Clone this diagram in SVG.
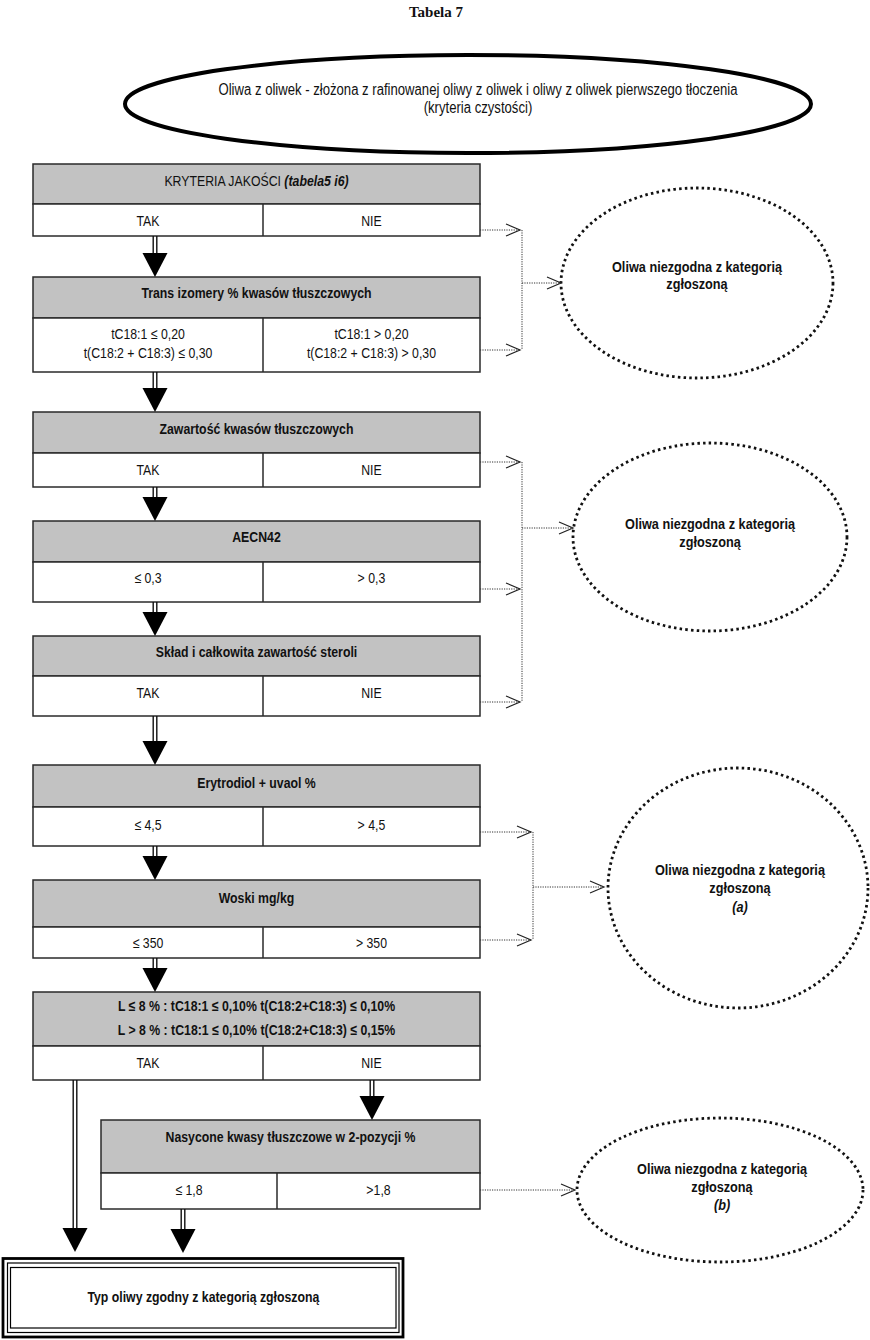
<svg xmlns="http://www.w3.org/2000/svg" xmlns:xlink="http://www.w3.org/1999/xlink" width="870" height="1340" viewBox="0 0 870 1340">
<style>
.bg{fill:#ffffff}
.hdr{fill:#c2c2c2;stroke:#2a2a2a;stroke-width:1.5}
.row{fill:#ffffff;stroke:#2a2a2a;stroke-width:1.5}
.div{stroke:#2a2a2a;stroke-width:1.5}
.t{font-family:"Liberation Sans",Arial,Helvetica,sans-serif;font-size:15px;fill:#111;text-anchor:middle}
.b{font-weight:bold}
.dot{fill:none;stroke:#111;stroke-width:2.8;stroke-dasharray:2.5 3.2}
.shaft{fill:none;stroke:#111;stroke-width:1.4}
.dl{fill:none;stroke:#333;stroke-width:1;stroke-dasharray:1.2 1.2}
.oa{fill:none;stroke:#222;stroke-width:1.2}
.tri{fill:#000}
</style>
<defs>
<path id="tri" class="tri" d="M-12.5,0 L12.5,0 L0,24 Z"/>
<path id="oa" class="oa" d="M-14,-6 L0,0 L-14,6"/>
</defs>
<rect class="bg" x="0" y="0" width="870" height="1340"/>
<text x="436" y="17" style="font-family:'Liberation Serif','Times New Roman',serif;font-size:15px;font-weight:bold;text-anchor:middle;fill:#111">Tabela 7</text>

<g id="start">
<ellipse cx="468" cy="104" rx="343" ry="49" fill="#fff" stroke="#000" stroke-width="4"/>
<text class="t" style="font-size:16px" transform="scale(0.82 1)" x="582.9" y="95">Oliwa z oliwek - złożona z rafinowanej oliwy z oliwek i oliwy z oliwek pierwszego tłoczenia</text>
<text class="t" style="font-size:16px" transform="scale(0.82 1)" x="582.9" y="113">(kryteria czystości)</text>
</g>

<g id="n1">
<rect class="hdr" x="33" y="164" width="447" height="40"/>
<rect class="row" x="33" y="204" width="447" height="32"/>
<line class="div" x1="263" y1="204" x2="263" y2="236"/>
<text class="t" transform="scale(0.82 1)" x="312.8" y="186">KRYTERIA JAKOŚCI <tspan class="b" font-style="italic">(tabela5 i6)</tspan></text>
<text class="t" transform="scale(0.82 1)" x="180.5" y="226">TAK</text>
<text class="t" transform="scale(0.82 1)" x="453" y="226">NIE</text>
</g>

<g id="n2">
<rect class="hdr" x="33" y="277" width="447" height="41"/>
<rect class="row" x="33" y="318" width="447" height="54"/>
<line class="div" x1="263" y1="318" x2="263" y2="372"/>
<text class="t b" transform="scale(0.82 1)" x="312.8" y="298">Trans izomery % kwasów tłuszczowych</text>
<text class="t" transform="scale(0.82 1)" x="180.5" y="339">tC18:1 ≤ 0,20</text>
<text class="t" transform="scale(0.82 1)" x="180.5" y="358">t(C18:2 + C18:3) ≤ 0,30</text>
<text class="t" transform="scale(0.82 1)" x="453" y="339">tC18:1 &gt; 0,20</text>
<text class="t" transform="scale(0.82 1)" x="453" y="358">t(C18:2 + C18:3) &gt; 0,30</text>
</g>

<g id="n3">
<rect class="hdr" x="33" y="412" width="447" height="41"/>
<rect class="row" x="33" y="453" width="447" height="34"/>
<line class="div" x1="263" y1="453" x2="263" y2="487"/>
<text class="t b" transform="scale(0.82 1)" x="312.8" y="434">Zawartość kwasów tłuszczowych</text>
<text class="t" transform="scale(0.82 1)" x="180.5" y="475">TAK</text>
<text class="t" transform="scale(0.82 1)" x="453" y="475">NIE</text>
</g>

<g id="n4">
<rect class="hdr" x="33" y="521" width="447" height="41"/>
<rect class="row" x="33" y="562" width="447" height="40"/>
<line class="div" x1="263" y1="562" x2="263" y2="602"/>
<text class="t b" transform="scale(0.82 1)" x="312.8" y="542">AECN42</text>
<text class="t" transform="scale(0.82 1)" x="180.5" y="583">≤ 0,3</text>
<text class="t" transform="scale(0.82 1)" x="453" y="583">&gt; 0,3</text>
</g>

<g id="n5">
<rect class="hdr" x="33" y="636" width="447" height="40"/>
<rect class="row" x="33" y="676" width="447" height="40"/>
<line class="div" x1="263" y1="676" x2="263" y2="716"/>
<text class="t b" transform="scale(0.82 1)" x="312.8" y="657">Skład i całkowita zawartość steroli</text>
<text class="t" transform="scale(0.82 1)" x="180.5" y="698">TAK</text>
<text class="t" transform="scale(0.82 1)" x="453" y="698">NIE</text>
</g>

<g id="n6">
<rect class="hdr" x="33" y="765" width="447" height="42"/>
<rect class="row" x="33" y="807" width="447" height="39"/>
<line class="div" x1="263" y1="807" x2="263" y2="846"/>
<text class="t b" transform="scale(0.82 1)" x="312.8" y="788">Erytrodiol + uvaol %</text>
<text class="t" transform="scale(0.82 1)" x="180.5" y="830">≤ 4,5</text>
<text class="t" transform="scale(0.82 1)" x="453" y="830">&gt; 4,5</text>
</g>

<g id="n7">
<rect class="hdr" x="33" y="880" width="447" height="47"/>
<rect class="row" x="33" y="927" width="447" height="31"/>
<line class="div" x1="263" y1="927" x2="263" y2="958"/>
<text class="t b" transform="scale(0.82 1)" x="312.8" y="903">Woski mg/kg</text>
<text class="t" transform="scale(0.82 1)" x="180.5" y="948">≤ 350</text>
<text class="t" transform="scale(0.82 1)" x="453" y="948">&gt; 350</text>
</g>

<g id="n8">
<rect class="hdr" x="33" y="992" width="447" height="54"/>
<rect class="row" x="33" y="1046" width="447" height="34"/>
<line class="div" x1="263" y1="1046" x2="263" y2="1080"/>
<text class="t b" transform="scale(0.82 1)" x="312.8" y="1011">L ≤ 8 % : tC18:1 ≤ 0,10% t(C18:2+C18:3) ≤ 0,10%</text>
<text class="t b" transform="scale(0.82 1)" x="312.8" y="1035">L &gt; 8 % : tC18:1 ≤ 0,10% t(C18:2+C18:3) ≤ 0,15%</text>
<text class="t" transform="scale(0.82 1)" x="180.5" y="1068">TAK</text>
<text class="t" transform="scale(0.82 1)" x="453" y="1068">NIE</text>
</g>

<g id="n9">
<rect class="hdr" x="101" y="1120" width="379" height="53"/>
<rect class="row" x="101" y="1173" width="379" height="36"/>
<line class="div" x1="277" y1="1173" x2="277" y2="1209"/>
<text class="t b" transform="scale(0.82 1)" x="354.3" y="1142">Nasycone kwasy tłuszczowe w 2-pozycji %</text>
<text class="t" transform="scale(0.82 1)" x="230.5" y="1195">≤ 1,8</text>
<text class="t" transform="scale(0.82 1)" x="461.6" y="1195">&gt;1,8</text>
</g>

<g id="end">
<rect x="3" y="1258.5" width="400" height="78.5" fill="#fff" stroke="#000" stroke-width="2.8"/>
<rect x="7.5" y="1263" width="391.5" height="69.5" fill="none" stroke="#000" stroke-width="1.2"/>
<rect x="10.5" y="1267.5" width="385.5" height="60.5" fill="none" stroke="#000" stroke-width="1.2"/>
<text class="t b" transform="scale(0.82 1)" x="248" y="1302">Typ oliwy zgodny z kategorią zgłoszoną</text>
</g>

<g id="r1">
<ellipse class="dot" cx="697" cy="283" rx="136" ry="95"/>
<text class="t b" style="font-size:15.5px" transform="scale(0.82 1)" x="850" y="272">Oliwa niezgodna z kategorią</text>
<text class="t b" style="font-size:15.5px" transform="scale(0.82 1)" x="850" y="289">zgłoszoną</text>
</g>

<g id="r2">
<ellipse class="dot" cx="710" cy="537" rx="137" ry="94"/>
<text class="t b" style="font-size:15.5px" transform="scale(0.82 1)" x="865.9" y="529">Oliwa niezgodna z kategorią</text>
<text class="t b" style="font-size:15.5px" transform="scale(0.82 1)" x="865.9" y="547">zgłoszoną</text>
</g>

<g id="r3">
<ellipse class="dot" cx="738" cy="888" rx="130" ry="120"/>
<text class="t b" style="font-size:15.5px" transform="scale(0.82 1)" x="902.4" y="875">Oliwa niezgodna z kategorią</text>
<text class="t b" style="font-size:15.5px" transform="scale(0.82 1)" x="902.4" y="893">zgłoszoną</text>
<text class="t b" style="font-size:15.5px" font-style="italic" transform="scale(0.82 1)" x="902.4" y="912">(a)</text>
</g>

<g id="r4">
<ellipse class="dot" cx="720" cy="1190" rx="143" ry="72"/>
<text class="t b" style="font-size:15.5px" transform="scale(0.82 1)" x="880.5" y="1174">Oliwa niezgodna z kategorią</text>
<text class="t b" style="font-size:15.5px" transform="scale(0.82 1)" x="880.5" y="1192">zgłoszoną</text>
<text class="t b" style="font-size:15.5px" font-style="italic" transform="scale(0.82 1)" x="880.5" y="1210">(b)</text>
</g>

<g id="connectors">
<path class="shaft" d="M153.2,236 V254 M156.8,236 V254"/>
<use xlink:href="#tri" x="155" y="253"/>
<path class="shaft" d="M153.2,372 V389 M156.8,372 V389"/>
<use xlink:href="#tri" x="155" y="388"/>
<path class="shaft" d="M153.2,487 V498 M156.8,487 V498"/>
<use xlink:href="#tri" x="155" y="497"/>
<path class="shaft" d="M153.2,602 V613 M156.8,602 V613"/>
<use xlink:href="#tri" x="155" y="612"/>
<path class="shaft" d="M153.2,716 V742 M156.8,716 V742"/>
<use xlink:href="#tri" x="155" y="741"/>
<path class="shaft" d="M153.2,846 V857 M156.8,846 V857"/>
<use xlink:href="#tri" x="155" y="856"/>
<path class="shaft" d="M153.2,958 V969 M156.8,958 V969"/>
<use xlink:href="#tri" x="155" y="968"/>
<path class="shaft" d="M73.2,1080 V1229 M76.8,1080 V1229"/>
<use xlink:href="#tri" x="75" y="1228"/>
<path class="shaft" d="M370.2,1080 V1097 M373.8,1080 V1097"/>
<use xlink:href="#tri" x="372" y="1096"/>
<path class="shaft" d="M181.2,1209 V1230 M184.8,1209 V1230"/>
<use xlink:href="#tri" x="183" y="1229"/>

<path class="dl" d="M480,230 H520 M480,350 H520 M522,230 V350 M522,283 H560"/>
<use xlink:href="#oa" x="520" y="230"/>
<use xlink:href="#oa" x="520" y="350"/>
<use xlink:href="#oa" x="561" y="283"/>

<path class="dl" d="M480,462 H520 M480,589 H520 M480,702 H520 M522,462 V702 M522,528 H572"/>
<use xlink:href="#oa" x="520" y="462"/>
<use xlink:href="#oa" x="520" y="589"/>
<use xlink:href="#oa" x="520" y="702"/>
<use xlink:href="#oa" x="573" y="528"/>

<path class="dl" d="M480,832 H531 M480,940 H531 M533,832 V940 M533,887 H603"/>
<use xlink:href="#oa" x="531" y="832"/>
<use xlink:href="#oa" x="531" y="940"/>
<use xlink:href="#oa" x="604" y="887"/>

<path class="dl" d="M480,1190 H574"/>
<use xlink:href="#oa" x="575" y="1190"/>
</g>
</svg>
